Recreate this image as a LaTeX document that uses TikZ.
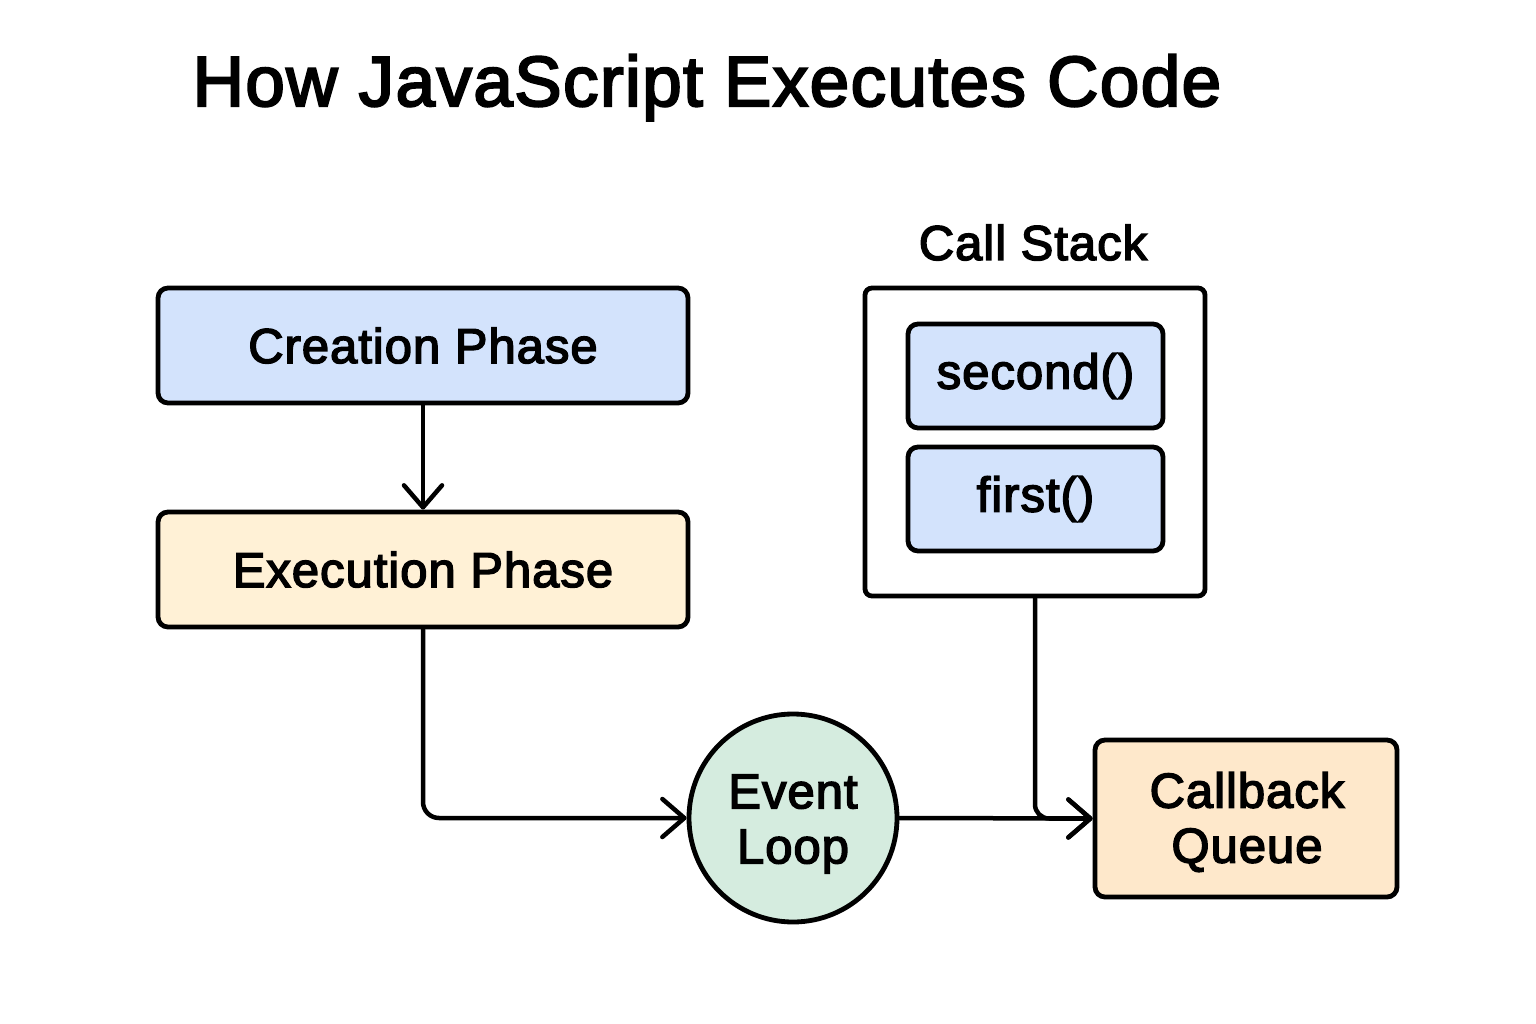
\documentclass[tikz,border=0pt]{standalone}
\usepackage{fontspec}
\setmainfont{Liberation Sans}
\newfontfamily\lblfont{Liberation Sans}[FakeBold=3, LetterSpace=2]
\usetikzlibrary{arrows.meta}
\definecolor{cpblue}{HTML}{D3E3FC}
\definecolor{epcream}{HTML}{FFF1D6}
\definecolor{elgreen}{HTML}{D5ECDF}
\definecolor{cqpeach}{HTML}{FEE8CB}
\tikzset{
  box/.style={draw=black, line width=4.8pt, rounded corners=10pt, inner sep=0pt,
    font=\lblfont\fontsize{49}{55}\selectfont, align=center},
  conn/.style={draw=black, line width=4.5pt, line cap=round, line join=round,
    -{Straight Barb[length=22pt,width=38pt,round]}}
}
\begin{document}
\begin{tikzpicture}[x=1pt,y=-1pt]
\useasboundingbox[fill=white] (0,0) rectangle (1536,1024);
\node[anchor=base, font=\lblfont\fontsize{71}{80}\selectfont] (title) at (707,106) {How JavaScript Executes Code};

\node[box, fill=cpblue, minimum width=530pt, minimum height=115pt] (cp) at (423,345.5) {Creation Phase};
\node[box, fill=epcream, minimum width=530pt, minimum height=115pt] (ep) at (423,569.5) {Execution Phase};

\node[anchor=base, font=\lblfont\fontsize{49}{55}\selectfont] (cslabel) at (1033,260) {Call Stack};
\node[box, fill=white, rounded corners=7pt, minimum width=340pt, minimum height=308pt] (cs) at (1035,442) {};
\node[box, fill=cpblue, minimum width=255pt, minimum height=104pt] (second) at (1035.5,376) {second()};
\node[box, fill=cpblue, minimum width=255pt, minimum height=104pt] (first) at (1035.5,499) {first()};

\node[box, circle, fill=elgreen, minimum size=208pt] (el) at (793,818) {};
\node[font=\lblfont\fontsize{49}{55}\selectfont, align=center, inner sep=0pt] (elt) at (793,824) {Event\\Loop};
\node[box, fill=cqpeach, minimum width=302pt, minimum height=157pt] (cq) at (1246,818.5) {};
\node[font=\lblfont\fontsize{49}{55}\selectfont, align=center, inner sep=0pt] (cqt) at (1247,822) {Callback\\Queue};

\draw[conn] (cp.south) -- (ep.north);
\draw[conn, rounded corners=16pt] (ep.south) |- (el.west);
\draw[conn, rounded corners=14pt] (cs.south) |- (cq.west);
\draw[conn] (el.east) -- (cq.west);
\end{tikzpicture}
\end{document}
